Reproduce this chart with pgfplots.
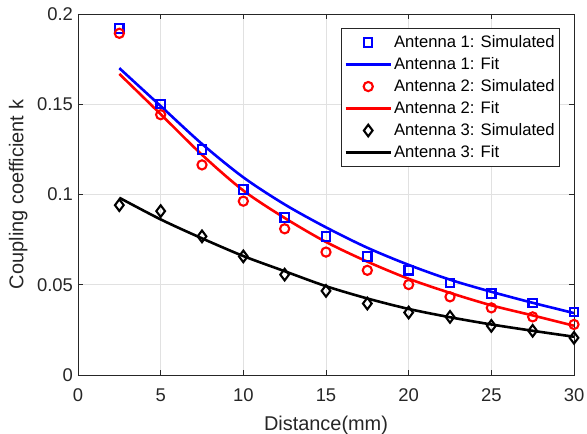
\documentclass[border=0pt]{standalone}
\usepackage{fontspec}
\setmainfont{Liberation Sans}
\usepackage{pgfplots}
\pgfplotsset{compat=1.18}
\definecolor{axgray}{RGB}{38,38,38}
\definecolor{gridgray}{RGB}{225,225,225}
\definecolor{mblue}{RGB}{0,0,255}
\definecolor{mred}{RGB}{255,0,0}

\pgfplotsset{
    markleg/.style={legend image code/.code={\draw[##1] plot coordinates {(22.5bp,0bp)};}},
    lineleg/.style={legend image code/.code={\draw[##1] (0bp,0bp) -- (45bp,0bp);}},
}

\begin{document}
\begin{tikzpicture}
\begin{axis}[
    name=ax,
    scale only axis,
    width=496bp, height=361bp,
    xmin=0, xmax=30, ymin=0, ymax=0.2,
    xtick={0,5,10,15,20,25,30},
    xticklabels={0,5,10,15,20,25,30},
    ytick={0,0.05,0.1,0.15,0.2},
    yticklabels={0,0.05,0.1,0.15,0.2},
    grid=major,
    grid style={line width=0.8bp, draw=gridgray},
    axis line style={line width=0.9bp, draw=axgray},
    major tick style={line width=0.9bp, draw=axgray},
    major tick length=5bp,
    tick align=inside,
    tick label style={font=\fontsize{18.5}{22}\selectfont, text=axgray},
    xticklabel style={anchor=base, yshift=-26bp},
    yticklabel style={xshift=-1.5bp},
    xlabel={Distance(mm)},
    ylabel={Coupling coefficient k},
    label style={font=\fontsize{20}{24}\selectfont, text=axgray},
    xlabel style={at={(axis description cs:0.5,-0.155)}, anchor=base},
    ylabel style={at={(axis description cs:-0.0948,0.5)}, anchor=south, rotate=0},
    legend style={font=\fontsize{16.7}{20}\selectfont, draw=axgray, line width=0.9bp,
        fill=white, at={(0.972,0.961)}, anchor=north east,
        cells={anchor=west}, row sep=6bp, inner xsep=3bp, inner ysep=6bp,
        nodes={inner ysep=0bp, inner xsep=2bp, text height=13bp, text depth=3bp}},
]

% Antenna 1
\addplot[only marks, mblue, mark=square, mark size=4.2bp, line width=2.1bp, markleg] coordinates {
    (2.5,0.192) (5,0.150) (7.5,0.1249) (10,0.1028) (12.5,0.0873) (15,0.0768)
    (17.5,0.0657) (20,0.0580) (22.5,0.0510) (25,0.0451) (27.5,0.0400) (30,0.0350)
};
\addlegendentry{Antenna 1: Simulated}
\addplot[mblue, line width=2.6bp, smooth, lineleg] coordinates {
    (2.5,0.1700) (5,0.1490) (7.5,0.1280) (10,0.1095) (12.5,0.0945) (15,0.0818)
    (17.5,0.0705) (20,0.0610) (22.5,0.0528) (25,0.0461) (27.5,0.0400) (30,0.0343)
};
\addlegendentry{Antenna 1: Fit}

% Antenna 2
\addplot[only marks, mred, mark=o, mark size=4.6bp, line width=2.1bp, markleg] coordinates {
    (2.5,0.1893) (5,0.1442) (7.5,0.1164) (10,0.0963) (12.5,0.0810) (15,0.0681)
    (17.5,0.0580) (20,0.0501) (22.5,0.0433) (25,0.0372) (27.5,0.0322) (30,0.0280)
};
\addlegendentry{Antenna 2: Simulated}
\addplot[mred, line width=2.6bp, smooth, lineleg] coordinates {
    (2.5,0.1668) (5,0.1445) (7.5,0.1220) (10,0.1022) (12.5,0.0870) (15,0.0737)
    (17.5,0.0628) (20,0.0533) (22.5,0.0455) (25,0.0386) (27.5,0.0330) (30,0.0273)
};
\addlegendentry{Antenna 2: Fit}

% Antenna 3
\addplot[only marks, black, mark=diamond, mark size=5.8bp, line width=2.1bp, markleg] coordinates {
    (2.5,0.0941) (5,0.0908) (7.5,0.0768) (10,0.0657) (12.5,0.0556) (15,0.0466)
    (17.5,0.0396) (20,0.0346) (22.5,0.0322) (25,0.0272) (27.5,0.0245) (30,0.0206)
};
\addlegendentry{Antenna 3: Simulated}
\addplot[black, line width=2.6bp, smooth, lineleg] coordinates {
    (2.5,0.0982) (5,0.0862) (7.5,0.0757) (10,0.0659) (12.5,0.0575) (15,0.0492)
    (17.5,0.0424) (20,0.0366) (22.5,0.0320) (25,0.0280) (27.5,0.0245) (30,0.0212)
};
\addlegendentry{Antenna 3: Fit}

\end{axis}
\pgfresetboundingbox
\path[use as bounding box] (ax.south west) ++(-78bp,-59bp) rectangle ([shift={(13bp,14bp)}]ax.north east);
\end{tikzpicture}
\end{document}
